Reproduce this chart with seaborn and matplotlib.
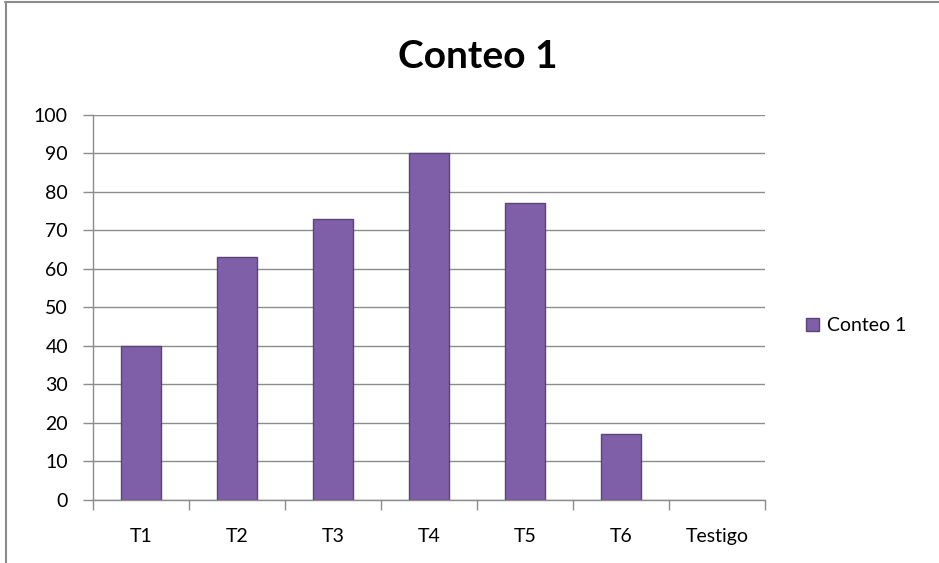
import pandas as pd
import seaborn as sns
import matplotlib.pyplot as plt
from matplotlib.lines import Line2D
from matplotlib.patches import Patch

# datos del gráfico
categorias = ["T1", "T2", "T3", "T4", "T5", "T6", "Testigo"]
conteo = [40, 63, 73, 90, 77, 17, 0]
titulo = "Conteo 1"

df = pd.DataFrame({"tratamiento": categorias, "conteo": conteo})

sns.set_style("white")
plt.rcParams["font.family"] = ["Lato", "DejaVu Sans"]
plt.rcParams["text.color"] = "black"

fig = plt.figure(figsize=(9.39, 5.63), dpi=100)
ax = fig.add_axes([0.099, 0.112, 0.716, 0.684])

morado = "#7F5FA8"
borde = "#5B4478"
sns.barplot(data=df, x="tratamiento", y="conteo", color=morado, width=0.42,
            edgecolor=borde, linewidth=1.0, saturation=1, ax=ax, zorder=3)

# barras de altura cero no se ven en el original
for barra in ax.patches:
    if barra.get_height() == 0:
        barra.set_edgecolor("none")

ax.set_ylim(0, 100)
ax.set_xlim(-0.5, len(categorias) - 0.5)
ax.set_yticks(range(0, 101, 10))
ax.grid(axis="y", color="#8C8C8C", linewidth=1.0, zorder=0)
ax.set_axisbelow(True)

for lado in ["top", "right"]:
    ax.spines[lado].set_visible(False)
for lado in ["left", "bottom"]:
    ax.spines[lado].set_color("#8C8C8C")
    ax.spines[lado].set_linewidth(1.0)

ax.set_xlabel("")
ax.set_ylabel("")
ax.tick_params(axis="x", length=0, labelsize=14, pad=20, labelcolor="black")
ax.tick_params(axis="y", length=7, width=1, color="#8C8C8C", labelsize=14,
               left=True, pad=11, labelcolor="black")
ax.set_xticks([i - 0.5 for i in range(len(categorias) + 1)], minor=True)
ax.tick_params(axis="x", which="minor", length=7, width=1, color="#8C8C8C", bottom=True)

fig.text(0.509, 0.899, titulo, ha="center", va="center", fontsize=28,
         fontweight="bold", color="black")

fig.legend(handles=[Patch(facecolor=morado, edgecolor=borde, label=titulo)],
           loc="center left", bbox_to_anchor=(0.84, 0.422), frameon=False,
           fontsize=14, handlelength=0.65, handleheight=0.65, handletextpad=0.4,
           labelcolor="black")

# marco del área del gráfico (recortado)
fig.add_artist(Line2D([0.005, 1.0], [0.996, 0.996], color="#8C8C8C", linewidth=1.5))
fig.add_artist(Line2D([0.006, 0.006], [0.0, 0.996], color="#8C8C8C", linewidth=1.5))

fig.savefig("out.png", dpi=100)
